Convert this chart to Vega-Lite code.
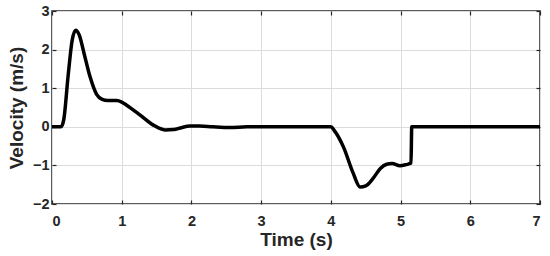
{
  "$schema": "https://vega.github.io/schema/vega-lite/v6.json",
  "width": 488,
  "height": 193,
  "autosize": "none",
  "padding": {"left": 52, "top": 11, "right": 10, "bottom": 52},
  "background": "white",
  "config": {
    "view": {"stroke": "#262626", "strokeWidth": 1.5},
    "font": "Liberation Sans"
  },
  "data": {
    "values": [
      {"t": 0, "v": 0}, {"t": 0.13, "v": 0}, {"t": 0.17, "v": 0.2}, {"t": 0.23, "v": 1.3},
      {"t": 0.29, "v": 2.25}, {"t": 0.34, "v": 2.5}, {"t": 0.39, "v": 2.38}, {"t": 0.46, "v": 1.9},
      {"t": 0.545, "v": 1.3}, {"t": 0.64, "v": 0.84}, {"t": 0.72, "v": 0.71}, {"t": 0.8, "v": 0.68},
      {"t": 0.93, "v": 0.68}, {"t": 1.0, "v": 0.64}, {"t": 1.07, "v": 0.56}, {"t": 1.26, "v": 0.31},
      {"t": 1.45, "v": 0.05}, {"t": 1.62, "v": -0.08}, {"t": 1.75, "v": -0.07}, {"t": 1.84, "v": -0.03},
      {"t": 1.98, "v": 0.02}, {"t": 2.12, "v": 0.02}, {"t": 2.3, "v": 0.0}, {"t": 2.55, "v": -0.02},
      {"t": 2.8, "v": 0.0}, {"t": 3.0, "v": 0.0}, {"t": 3.5, "v": 0.0}, {"t": 4.0, "v": 0.0},
      {"t": 4.05, "v": -0.1}, {"t": 4.18, "v": -0.52}, {"t": 4.32, "v": -1.2}, {"t": 4.42, "v": -1.56},
      {"t": 4.5, "v": -1.53}, {"t": 4.6, "v": -1.35}, {"t": 4.71, "v": -1.08}, {"t": 4.8, "v": -0.97},
      {"t": 4.88, "v": -0.95}, {"t": 4.99, "v": -1.01}, {"t": 5.08, "v": -0.98}, {"t": 5.15, "v": -0.94},
      {"t": 5.16, "v": 0}, {"t": 7, "v": 0}
    ]
  },
  "layer": [
    {
      "mark": {"type": "line", "color": "black", "strokeWidth": 3.5, "interpolate": "monotone", "clip": true},
      "encoding": {
        "x": {
          "field": "t", "type": "quantitative",
          "scale": {"domain": [0, 7], "nice": false, "zero": false},
          "axis": {
            "orient": "bottom", "title": "Time (s)", "values": [0, 1, 2, 3, 4, 5, 6, 7],
            "grid": true, "gridColor": "#dcdcdc", "gridWidth": 1,
            "domain": false, "tickSize": -4, "tickColor": "#262626", "tickWidth": 1.2,
            "labelFont": "Liberation Sans", "labelFontWeight": "bold", "labelFontSize": 14.5, "labelColor": "#262626",
            "labelPadding": 14,
            "titleFont": "Liberation Sans", "titleFontWeight": "bold", "titleFontSize": 19, "titleColor": "#262626",
            "titlePadding": 3
          }
        },
        "y": {
          "field": "v", "type": "quantitative",
          "scale": {"domain": [-2, 3], "nice": false, "zero": false},
          "axis": {
            "orient": "left", "title": "Velocity (m/s)", "values": [-2, -1, 0, 1, 2, 3],
            "grid": true, "gridColor": "#dcdcdc", "gridWidth": 1,
            "domain": false, "tickSize": -4, "tickColor": "#262626", "tickWidth": 1.2,
            "labelFont": "Liberation Sans", "labelFontWeight": "bold", "labelFontSize": 14.5, "labelColor": "#262626",
            "labelPadding": 7,
            "titleFont": "Liberation Sans", "titleFontWeight": "bold", "titleFontSize": 19, "titleColor": "#262626",
            "titlePadding": 6
          }
        }
      }
    },
    {
      "mark": {"type": "line", "strokeOpacity": 0},
      "encoding": {
        "x": {
          "field": "t", "type": "quantitative",
          "axis": {"orient": "top", "title": null, "labels": false, "grid": false, "domain": false,
                   "values": [0, 1, 2, 3, 4, 5, 6, 7], "tickSize": -4, "tickColor": "#262626", "tickWidth": 1.2}
        },
        "y": {
          "field": "v", "type": "quantitative",
          "axis": {"orient": "right", "title": null, "labels": false, "grid": false, "domain": false,
                   "values": [-2, -1, 0, 1, 2, 3], "tickSize": -4, "tickColor": "#262626", "tickWidth": 1.2}
        }
      }
    }
  ],
  "resolve": {"axis": {"x": "independent", "y": "independent"}}
}
